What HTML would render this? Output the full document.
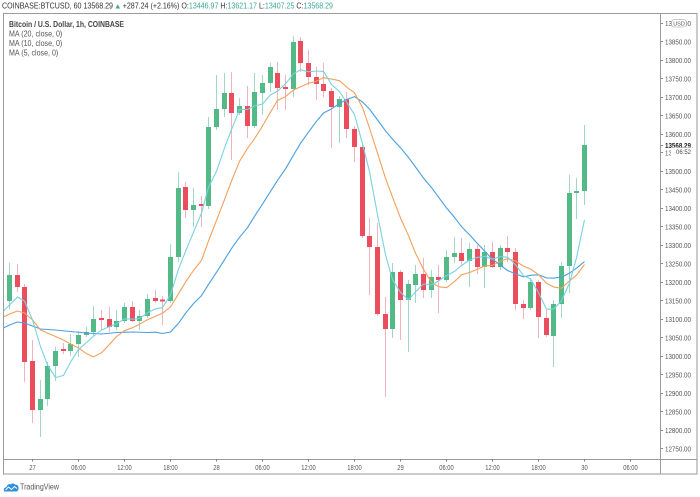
<!DOCTYPE html>
<html>
<head>
<meta charset="utf-8">
<style>
html,body{margin:0;padding:0;background:#fff;}
body{width:700px;height:497px;overflow:hidden;}
svg{display:block;font-family:"Liberation Sans",Arial,sans-serif;}
</style>
</head>
<body>
<svg width="700" height="497" viewBox="0 0 700 497" xmlns="http://www.w3.org/2000/svg">
<defs>
<clipPath id="plot"><rect x="4" y="14" width="656.5" height="445"/></clipPath>
</defs>
<rect x="0" y="0" width="700" height="497" fill="#fff"/>

<!-- header -->
<g font-size="8" fill="#333">
<text x="2" y="8.7" textLength="111" lengthAdjust="spacingAndGlyphs">COINBASE:BTCUSD, 60 13568.29</text>
<polygon points="115.5,8.5 120,8.5 117.75,4.3" fill="#3aa897"/>
<text x="122.7" y="8.7" textLength="56.7" lengthAdjust="spacingAndGlyphs">+287.24 (+2.16%)</text>
<text x="181.4" y="8.7" textLength="7.5" lengthAdjust="spacingAndGlyphs">O:</text>
<text x="188.9" y="8.7" textLength="29.5" lengthAdjust="spacingAndGlyphs" fill="#3aa897">13446.97</text>
<text x="220.4" y="8.7" textLength="7.1" lengthAdjust="spacingAndGlyphs">H:</text>
<text x="227.5" y="8.7" textLength="29.5" lengthAdjust="spacingAndGlyphs" fill="#3aa897">13621.17</text>
<text x="259" y="8.7" textLength="5.9" lengthAdjust="spacingAndGlyphs">L:</text>
<text x="264.9" y="8.7" textLength="29.5" lengthAdjust="spacingAndGlyphs" fill="#3aa897">13407.25</text>
<text x="296.4" y="8.7" textLength="7.1" lengthAdjust="spacingAndGlyphs">C:</text>
<text x="303.5" y="8.7" textLength="29.5" lengthAdjust="spacingAndGlyphs" fill="#3aa897">13568.29</text>
</g>

<!-- frame -->
<g stroke="#9a9a9a" stroke-width="1" fill="none">
<rect x="3.5" y="13.5" width="693.5" height="460.5"/>
<line x1="660.5" y1="13.5" x2="660.5" y2="474"/>
<line x1="3.5" y1="459.5" x2="697" y2="459.5"/>
</g>

<!-- legend -->
<g font-size="8">
<text x="9" y="27" fill="#444" font-weight="bold" textLength="115" lengthAdjust="spacingAndGlyphs">Bitcoin / U.S. Dollar, 1h, COINBASE</text>
<text x="9" y="36.3" fill="#555" textLength="53.3" lengthAdjust="spacingAndGlyphs">MA (20, close, 0)</text>
<text x="9" y="45.8" fill="#555" textLength="53.3" lengthAdjust="spacingAndGlyphs">MA (10, close, 0)</text>
<text x="9" y="55.3" fill="#555" textLength="49.3" lengthAdjust="spacingAndGlyphs">MA (5, close, 0)</text>
</g>

<g clip-path="url(#plot)">
<!-- wicks -->
<path fill="none" stroke="#a3d6c6" stroke-width="1" d="M9.5 263V309 M40.5 380V437 M47.5 362V406 M55.5 347V381 M70.5 334V356 M78.5 331V357 M86.5 327V337 M93.5 306V336 M116.5 310V330 M124.5 303V323 M139.5 310V330 M147.5 294V318 M170.5 244V303 M178.5 172V262 M193.5 188V227 M208.5 117V209 M216.5 75V130 M224.5 73V117 M239.5 98V115 M254.5 73V128 M262.5 75V115 M270.5 63V92 M293.5 36V97 M339.5 96V143 M392.5 263V338 M408.5 280V352 M415.5 265V303 M431.5 270V298 M446.5 250V282 M454.5 237V263 M469.5 243V287 M484.5 245V288 M500.5 245V270 M530.5 278V310 M553.5 300V367 M561.5 262V318 M569.5 175V293 M576.5 178V219 M584.5 125V205"/>
<path fill="none" stroke="#f2b4bc" stroke-width="1" d="M17.5 264V292 M24.5 284V382 M32.5 340V423 M63.5 343V354 M101.5 310V330 M109.5 307V332 M132.5 301V322 M155.5 290V303 M162.5 296V325 M185.5 182V218 M201.5 196V227 M231.5 72V160 M247.5 86V138 M277.5 62V110 M285.5 75V110 M300.5 37V72 M308.5 50V85 M316.5 67V100 M323.5 63V97 M331.5 88V148 M346.5 92V138 M354.5 126V162 M362.5 145V238 M369.5 218V295 M377.5 223V316 M385.5 297V397 M400.5 270V340 M423.5 258V298 M438.5 265V313 M461.5 238V265 M477.5 245V274 M492.5 242V268 M507.5 236V262 M515.5 248V310 M523.5 300V319 M538.5 280V338 M546.5 310V337"/>

<!-- green bodies -->
<g fill="#53b987">
<rect x="7" y="275" width="5" height="26"/>
<rect x="38" y="399" width="5" height="11"/>
<rect x="45" y="366" width="5" height="33"/>
<rect x="53" y="351" width="5" height="15"/>
<rect x="68" y="344" width="5" height="7"/>
<rect x="76" y="335" width="5" height="9"/>
<rect x="84" y="332" width="5" height="3"/>
<rect x="91" y="319" width="5" height="13"/>
<rect x="114" y="321" width="5" height="6"/>
<rect x="122" y="307" width="5" height="14"/>
<rect x="137" y="316" width="5" height="5"/>
<rect x="145" y="299" width="5" height="17"/>
<rect x="168" y="257" width="5" height="44"/>
<rect x="176" y="188" width="5" height="69"/>
<rect x="191" y="205" width="5" height="5"/>
<rect x="206" y="127" width="5" height="79"/>
<rect x="214" y="109" width="5" height="18"/>
<rect x="222" y="93" width="5" height="16"/>
<rect x="237" y="106" width="5" height="7"/>
<rect x="252" y="92" width="5" height="34"/>
<rect x="260" y="83" width="5" height="10"/>
<rect x="268" y="67" width="5" height="16"/>
<rect x="291" y="42" width="5" height="47"/>
<rect x="337" y="99" width="5" height="8"/>
<rect x="390" y="272" width="5" height="57"/>
<rect x="406" y="284" width="5" height="16"/>
<rect x="413" y="274" width="5" height="11"/>
<rect x="429" y="277" width="5" height="13"/>
<rect x="444" y="257" width="5" height="23"/>
<rect x="452" y="253" width="5" height="4"/>
<rect x="467" y="249" width="5" height="12"/>
<rect x="482" y="252" width="5" height="15"/>
<rect x="498" y="248" width="5" height="19"/>
<rect x="528" y="282" width="5" height="26"/>
<rect x="551" y="304" width="5" height="32"/>
<rect x="559" y="266" width="5" height="38"/>
<rect x="567" y="193" width="5" height="73"/>
<rect x="574" y="191" width="5" height="2"/>
<rect x="582" y="145" width="5" height="46"/>
</g>

<!-- red bodies -->
<g fill="#eb4d5c">
<rect x="15" y="275" width="5" height="12"/>
<rect x="22" y="287" width="5" height="75"/>
<rect x="30" y="361" width="5" height="49"/>
<rect x="61" y="349" width="5" height="2"/>
<rect x="99" y="318" width="5" height="2"/>
<rect x="107" y="319" width="5" height="8"/>
<rect x="130" y="307" width="5" height="14"/>
<rect x="153" y="298" width="5" height="3"/>
<rect x="160" y="299.5" width="5" height="2"/>
<rect x="183" y="187" width="5" height="23"/>
<rect x="199" y="204" width="5" height="2"/>
<rect x="229" y="93" width="5" height="20"/>
<rect x="245" y="106" width="5" height="20"/>
<rect x="275" y="73" width="5" height="15"/>
<rect x="283" y="87" width="5" height="2"/>
<rect x="298" y="41" width="5" height="22"/>
<rect x="306" y="63" width="5" height="14"/>
<rect x="314" y="77" width="5" height="7"/>
<rect x="321" y="84" width="5" height="7"/>
<rect x="329" y="91" width="5" height="16"/>
<rect x="344" y="99" width="5" height="30"/>
<rect x="352" y="129" width="5" height="18"/>
<rect x="360" y="147" width="5" height="89"/>
<rect x="367" y="236" width="5" height="11"/>
<rect x="375" y="247" width="5" height="67"/>
<rect x="383" y="314" width="5" height="15"/>
<rect x="398" y="272" width="5" height="28"/>
<rect x="421" y="274" width="5" height="16"/>
<rect x="436" y="277" width="5" height="3"/>
<rect x="459" y="253" width="5" height="8"/>
<rect x="475" y="249" width="5" height="18"/>
<rect x="490" y="252" width="5" height="15"/>
<rect x="505" y="248" width="5" height="4"/>
<rect x="513" y="252" width="5" height="52"/>
<rect x="521" y="304" width="5" height="4"/>
<rect x="536" y="282" width="5" height="35"/>
<rect x="544" y="318" width="5" height="17"/>
</g>

<!-- MA20 -->
<polyline fill="none" stroke="#4a9fe0" stroke-width="1.1" stroke-linejoin="round" points="3.5,328 9.5,325 17.5,322 24.5,323 32.5,326 40.5,329 55.5,330 70.5,331.5 86.5,333 101.5,334 116.5,332.5 132.5,332 147.5,332.5 155.5,332.2 162.5,333.5 170.5,332 178.5,323.3 185.5,313.3 193.5,303.6 201.5,295.6 208.5,284.4 216.5,272.3 224.5,259.7 231.5,248.6 239.5,237.3 247.5,227.7 254.5,216.3 262.5,204.1 270.5,191.4 277.5,180.4 285.5,168.8 293.5,155.1 300.5,143.3 308.5,132.1 316.5,121.3 323.5,113 331.5,108.9 339.5,103.4 346.5,99.6 354.5,96.6 362.5,102 369.5,109 377.5,120 385.5,130.8 392.5,139.1 400.5,147.8 408.5,157.4 415.5,167 423.5,178.1 431.5,187.6 438.5,197.1 446.5,207.9 454.5,217.4 461.5,226.6 469.5,234.8 477.5,243.6 484.5,250.9 492.5,259.3 500.5,265.2 507.5,270.5 515.5,273.9 523.5,276.9 530.5,275.3 538.5,274.7 546.5,277.9 553.5,278.1 561.5,277.2 569.5,273.1 576.5,268.2 584.5,261.6"/>

<!-- MA10 -->
<polyline fill="none" stroke="#f3a05a" stroke-width="1.1" stroke-linejoin="round" points="3.5,317 9.5,314 17.5,311 24.5,313 32.5,320 40.5,330 47.5,333 55.5,336.5 63.5,340 70.5,344 78.5,348 86.5,353.7 93.5,356.9 101.5,352.7 109.5,344.4 116.5,336.6 124.5,330.7 132.5,327.7 139.5,324.2 147.5,319.7 155.5,316.3 162.5,313.2 170.5,307 178.5,293.8 185.5,282.1 193.5,270.5 201.5,260.4 208.5,241 216.5,220.3 224.5,199.7 231.5,180.9 239.5,161.4 247.5,148.3 254.5,138.7 262.5,126 270.5,112.2 277.5,100.4 285.5,96.6 293.5,89.9 300.5,86.9 308.5,83.3 316.5,81.1 323.5,77.6 331.5,79.1 339.5,80.7 346.5,86.9 354.5,92.8 362.5,107.5 369.5,128 377.5,153.1 385.5,178.3 392.5,197.1 400.5,218 408.5,235.7 415.5,253.2 423.5,269.3 431.5,282.3 438.5,286.7 446.5,287.7 454.5,281.6 461.5,274.8 469.5,272.5 477.5,269.2 484.5,266 492.5,265.3 500.5,261.1 507.5,258.6 515.5,261 523.5,266.1 530.5,269 538.5,274.6 546.5,283.2 553.5,286.9 561.5,288.3 569.5,280.9 576.5,275.2 584.5,264.5"/>

<!-- MA5 -->
<polyline fill="none" stroke="#78d2e2" stroke-width="1.1" stroke-linejoin="round" points="3.5,311 9.5,305 17.5,297 24.5,301 32.5,320 40.5,346.6 47.5,364.8 55.5,377.6 63.5,375.4 70.5,362.2 78.5,349.4 86.5,342.6 93.5,336.2 101.5,330 109.5,326.6 116.5,323.8 124.5,318.8 132.5,319.2 139.5,318.4 147.5,312.8 155.5,308.8 162.5,307.6 170.5,294.8 178.5,269.2 185.5,251.4 193.5,232.2 201.5,213.2 208.5,187.2 216.5,171.4 224.5,148 231.5,129.6 239.5,109.6 247.5,109.4 254.5,106 262.5,104 270.5,94.8 277.5,91.2 285.5,83.8 293.5,73.8 300.5,69.8 308.5,71.8 316.5,71 323.5,71.4 331.5,84.4 339.5,91.6 346.5,102 354.5,114.6 362.5,143.6 369.5,171.6 377.5,214.6 385.5,254.6 392.5,279.6 400.5,292.4 408.5,299.8 415.5,291.8 423.5,284 431.5,285 438.5,281 446.5,275.6 454.5,271.4 461.5,265.6 469.5,260 477.5,257.4 484.5,256.4 492.5,259.2 500.5,256.6 507.5,257.2 515.5,264.6 523.5,275.8 530.5,278.8 538.5,292.6 546.5,309.2 553.5,309.2 561.5,300.8 569.5,283 576.5,257.8 584.5,219.8"/>
</g>

<!-- price axis ticks -->
<path stroke="#888" stroke-width="1" fill="none" d="M661 23.5h2 M661 41.5h2 M661 60.5h2 M661 78.5h2 M661 97.5h2 M661 115.5h2 M661 134.5h2 M661 145.5h2 M661 152.5h2 M661 171.5h2 M661 189.5h2 M661 208.5h2 M661 226.5h2 M661 245.5h2 M661 263.5h2 M661 282.5h2 M661 300.5h2 M661 319.5h2 M661 337.5h2 M661 356.5h2 M661 374.5h2 M661 393.5h2 M661 411.5h2 M661 430.5h2 M661 448.5h2"/>

<!-- price labels -->
<g font-size="7" fill="#555">
<text x="665" y="25.8" textLength="26" lengthAdjust="spacingAndGlyphs">13900.00</text>
<text x="665" y="44.3" textLength="26" lengthAdjust="spacingAndGlyphs">13850.00</text>
<text x="665" y="62.8" textLength="26" lengthAdjust="spacingAndGlyphs">13800.00</text>
<text x="665" y="81.3" textLength="26" lengthAdjust="spacingAndGlyphs">13750.00</text>
<text x="665" y="99.8" textLength="26" lengthAdjust="spacingAndGlyphs">13700.00</text>
<text x="665" y="118.4" textLength="26" lengthAdjust="spacingAndGlyphs">13650.00</text>
<text x="665" y="136.9" textLength="26" lengthAdjust="spacingAndGlyphs">13600.00</text>
<text x="665" y="155.4" textLength="26" lengthAdjust="spacingAndGlyphs">13550.00</text>
<text x="665" y="173.9" textLength="26" lengthAdjust="spacingAndGlyphs">13500.00</text>
<text x="665" y="192.4" textLength="26" lengthAdjust="spacingAndGlyphs">13450.00</text>
<text x="665" y="210.9" textLength="26" lengthAdjust="spacingAndGlyphs">13400.00</text>
<text x="665" y="229.4" textLength="26" lengthAdjust="spacingAndGlyphs">13350.00</text>
<text x="665" y="247.9" textLength="26" lengthAdjust="spacingAndGlyphs">13300.00</text>
<text x="665" y="266.4" textLength="26" lengthAdjust="spacingAndGlyphs">13250.00</text>
<text x="665" y="284.9" textLength="26" lengthAdjust="spacingAndGlyphs">13200.00</text>
<text x="665" y="303.4" textLength="26" lengthAdjust="spacingAndGlyphs">13150.00</text>
<text x="665" y="321.9" textLength="26" lengthAdjust="spacingAndGlyphs">13100.00</text>
<text x="665" y="340.4" textLength="26" lengthAdjust="spacingAndGlyphs">13050.00</text>
<text x="665" y="358.9" textLength="26" lengthAdjust="spacingAndGlyphs">13000.00</text>
<text x="665" y="377.4" textLength="26" lengthAdjust="spacingAndGlyphs">12950.00</text>
<text x="665" y="396" textLength="26" lengthAdjust="spacingAndGlyphs">12900.00</text>
<text x="665" y="414.5" textLength="26" lengthAdjust="spacingAndGlyphs">12850.00</text>
<text x="665" y="433" textLength="26" lengthAdjust="spacingAndGlyphs">12800.00</text>
<text x="665" y="451.5" textLength="26" lengthAdjust="spacingAndGlyphs">12750.00</text>
</g>

<!-- USD badge -->
<rect x="671.5" y="19.5" width="15" height="7.5" rx="3" fill="#fff" stroke="#bbb" stroke-width="0.8"/>
<text x="679" y="25.5" font-size="5.5" fill="#555" text-anchor="middle">USD</text>

<!-- current price label + countdown -->
<rect x="664" y="141" width="30" height="8" fill="#fff"/>
<text x="665" y="148" font-size="7" fill="#222" font-weight="bold" textLength="26" lengthAdjust="spacingAndGlyphs">13568.29</text>
<rect x="671" y="147.5" width="23" height="8" fill="#fff"/>
<line x1="672" y1="147.5" x2="693" y2="147.5" stroke="#bbb" stroke-width="0.7" stroke-dasharray="1,1"/>
<text x="683.5" y="154" font-size="6.5" fill="#444" text-anchor="middle" textLength="15" lengthAdjust="spacingAndGlyphs">06:52</text>

<!-- time axis ticks -->
<path stroke="#777" stroke-width="1" fill="none" d="M32.5 459.5v2 M78.5 459.5v2 M124.5 459.5v2 M170.5 459.5v2 M216.5 459.5v2 M262.5 459.5v2 M308.5 459.5v2 M354.5 459.5v2 M400.5 459.5v2 M446.5 459.5v2 M492.5 459.5v2 M538.5 459.5v2 M584.5 459.5v2 M630.5 459.5v2"/>

<!-- time labels -->
<g font-size="7" fill="#555" text-anchor="middle">
<text x="32.5" y="470" textLength="6.5" lengthAdjust="spacingAndGlyphs">27</text>
<text x="78.5" y="470" textLength="14.5" lengthAdjust="spacingAndGlyphs">06:00</text>
<text x="124.5" y="470" textLength="14.5" lengthAdjust="spacingAndGlyphs">12:00</text>
<text x="170.5" y="470" textLength="14.5" lengthAdjust="spacingAndGlyphs">18:00</text>
<text x="216.5" y="470" textLength="6.5" lengthAdjust="spacingAndGlyphs">28</text>
<text x="262.5" y="470" textLength="14.5" lengthAdjust="spacingAndGlyphs">06:00</text>
<text x="308.5" y="470" textLength="14.5" lengthAdjust="spacingAndGlyphs">12:00</text>
<text x="354.5" y="470" textLength="14.5" lengthAdjust="spacingAndGlyphs">18:00</text>
<text x="400.5" y="470" textLength="6.5" lengthAdjust="spacingAndGlyphs">29</text>
<text x="446.5" y="470" textLength="14.5" lengthAdjust="spacingAndGlyphs">06:00</text>
<text x="492.5" y="470" textLength="14.5" lengthAdjust="spacingAndGlyphs">12:00</text>
<text x="538.5" y="470" textLength="14.5" lengthAdjust="spacingAndGlyphs">18:00</text>
<text x="584.5" y="470" textLength="6.5" lengthAdjust="spacingAndGlyphs">30</text>
<text x="630.5" y="470" textLength="14.5" lengthAdjust="spacingAndGlyphs">06:00</text>
</g>

<!-- TradingView logo -->
<path d="M4 491.5 Q3 487.5 6.5 487 Q7.5 483.5 11 484.2 Q13 482.3 15.3 484.6 Q18.8 484.6 18.6 488.3 Q18.5 491.5 16 491.5 Z" fill="#2e8fe0"/>
<polyline points="5.5,490 8.5,487 11.5,489.5 14.5,486.5 17,488.5" fill="none" stroke="#fff" stroke-width="1"/>
<text x="20" y="489.5" font-size="8" fill="#555" textLength="39" lengthAdjust="spacingAndGlyphs">TradingView</text>
</svg>
</body>
</html>
